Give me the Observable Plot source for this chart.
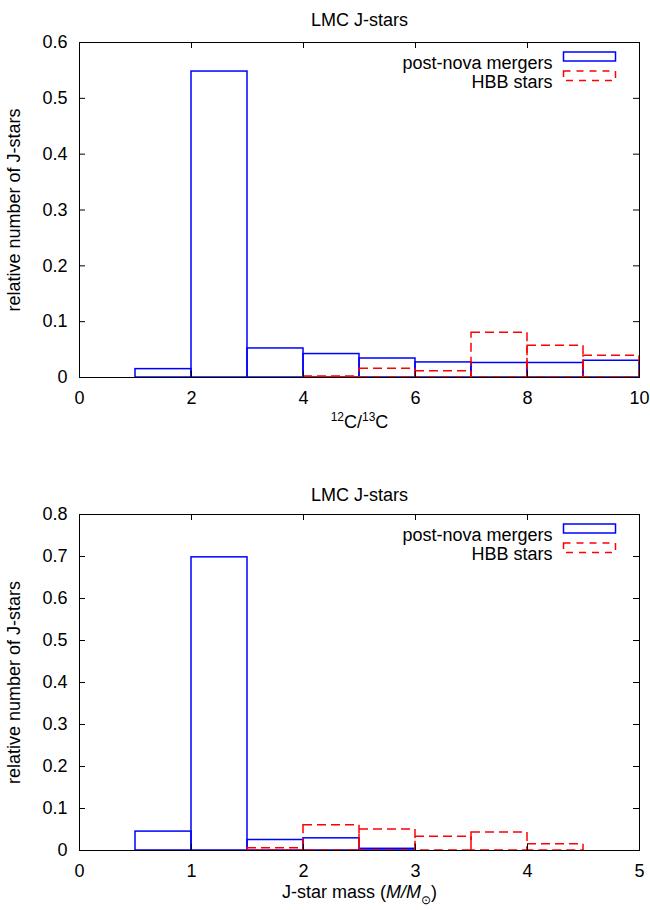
<!DOCTYPE html>
<html>
<head>
<meta charset="utf-8">
<script src="https://cdn.jsdelivr.net/npm/d3@7"></script>
<script src="https://cdn.jsdelivr.net/npm/@observablehq/plot@0.6"></script>
<style>
  body { margin: 0; background: #fff; }
  #chart svg { display: block; }
</style>
</head>
<body>
<div id="chart"></div>
<script>
// ---------- data ----------
const chartTitle = "LMC J-stars";
const yLabel = "relative number of J-stars";
const seriesNames = ["post-nova mergers", "HBB stars"];

// Panel 1: 12C/13C ratio
const ratioXTicks = [0, 2, 4, 6, 8, 10];
const ratioYTicks = [0, 0.1, 0.2, 0.3, 0.4, 0.5, 0.6];
const ratioBinWidth = 1;
const ratioMergerBins = [1, 2, 3, 4, 5, 6, 7, 8, 9];
const ratioMergerValues = [0.015, 0.548, 0.052, 0.042, 0.034, 0.027, 0.026, 0.026, 0.030];
const ratioHBBBins = [4, 5, 6, 7, 8, 9];
const ratioHBBValues = [0.002, 0.0155, 0.011, 0.080, 0.057, 0.039];
const ratioLabelParts = [["12", "sup"], ["C", ""], ["/", ""], ["13", "sup"], ["C", ""]];

// Panel 2: J-star mass
const massXTicks = [0, 1, 2, 3, 4, 5];
const massYTicks = [0, 0.1, 0.2, 0.3, 0.4, 0.5, 0.6, 0.7, 0.8];
const massBinWidth = 0.5;
const massMergerBins = [0.5, 1, 1.5, 2, 2.5];
const massMergerValues = [0.045, 0.698, 0.025, 0.029, 0.004];
const massHBBBins = [1.5, 2, 2.5, 3, 3.5, 4];
const massHBBValues = [0.0055, 0.060, 0.050, 0.033, 0.043, 0.015];
const massLabelParts = [["J-star mass (", ""], ["M/M", "it"], ["\u2299", "sub"], [")", ""]];

// ---------- helpers ----------
const FONT = "'Liberation Sans', Arial, Helvetica, sans-serif";
const W = 650, ML = 79, MR = 11;
const FW = W - ML - MR;
const fmt = d => String(+(+d).toFixed(3));

function bins(starts, values, width) {
  return starts.map((s, i) => ({x1: s, x2: s + width, y: values[i]}));
}

function richText(svg, parts) {
  const content = parts.map(p => p[0]).join("");
  d3.select(svg).selectAll("text")
    .filter(function () { return this.textContent === content; })
    .each(function () {
      const t = d3.select(this);
      t.text(null);
      let shift = 0;
      for (const [s, kind] of parts) {
        const ts = t.append("tspan").text(s);
        const target = kind === "sup" ? -7 : kind === "sub" ? 6 : 0;
        if (target !== shift) { ts.attr("dy", target - shift); shift = target; }
        if (kind === "sup" || kind === "sub") ts.attr("font-size", "12px");
        if (kind === "it") ts.attr("font-style", "italic");
      }
    });
}

function panel({height, marginTop, marginBottom, xDomain, yDomain, xTicks, yTicks,
                merger, hbb, labelParts, titleDy, labelDy}) {
  const FH = height - marginTop - marginBottom;
  const xLabelText = labelParts.map(p => p[0]).join("");
  const svg = Plot.plot({
    width: W,
    height,
    marginLeft: ML,
    marginRight: MR,
    marginTop,
    marginBottom,
    style: {fontSize: "18px", fontFamily: FONT, background: "#fff", color: "#000"},
    x: {domain: xDomain, ticks: xTicks, tickFormat: fmt, tickSize: 0, tickPadding: 14, label: null},
    y: {domain: yDomain, ticks: yTicks, tickFormat: fmt, tickSize: 0, tickPadding: 12, label: null},
    marks: [
      Plot.rect(merger, {x1: "x1", x2: "x2", y1: 0, y2: "y", fill: "none", stroke: "#0000ff", strokeWidth: 1.5}),
      Plot.rect(hbb, {x1: "x1", x2: "x2", y1: 0, y2: "y", fill: "none", stroke: "#ff0000", strokeWidth: 1.5, strokeDasharray: "9,5"}),
      // inward ticks on all four sides
      Plot.tickX(xTicks, {x: d => d, insetTop: FH - 6, stroke: "#000"}),
      Plot.tickX(xTicks, {x: d => d, insetBottom: FH - 6, stroke: "#000"}),
      Plot.tickY(yTicks, {y: d => d, insetRight: FW - 6, stroke: "#000"}),
      Plot.tickY(yTicks, {y: d => d, insetLeft: FW - 6, stroke: "#000"}),
      Plot.frame({stroke: "#000", strokeWidth: 1}),
      // legend
      Plot.text([seriesNames[0]], {frameAnchor: "top-right", textAnchor: "end", dx: -87, dy: 14}),
      Plot.text([seriesNames[1]], {frameAnchor: "top-right", textAnchor: "end", dx: -87, dy: 33}),
      Plot.frame({stroke: "#0000ff", strokeWidth: 1.5, insetLeft: FW - 76, insetRight: 24, insetTop: 9.5, insetBottom: FH - 18.5}),
      Plot.frame({stroke: "#ff0000", strokeWidth: 1.5, strokeDasharray: "7,6", insetLeft: FW - 76, insetRight: 24, insetTop: 28.5, insetBottom: FH - 38}),
      // titles and axis labels
      Plot.text([chartTitle], {frameAnchor: "top", dy: titleDy}),
      Plot.text([xLabelText], {frameAnchor: "bottom", dy: labelDy}),
      Plot.text([yLabel], {frameAnchor: "left", textAnchor: "middle", rotate: -90, dx: -65})
    ]
  });
  richText(svg, labelParts);
  return svg;
}

const root = document.getElementById("chart");
root.appendChild(panel({
  height: 473, marginTop: 42, marginBottom: 96,
  xDomain: [0, 10], yDomain: [0, 0.6], xTicks: ratioXTicks, yTicks: ratioYTicks,
  merger: bins(ratioMergerBins, ratioMergerValues, ratioBinWidth),
  hbb: bins(ratioHBBBins, ratioHBBValues, ratioBinWidth),
  labelParts: ratioLabelParts, titleDy: -29, labelDy: 50
}));
root.appendChild(panel({
  height: 437, marginTop: 41, marginBottom: 60,
  xDomain: [0, 5], yDomain: [0, 0.8], xTicks: massXTicks, yTicks: massYTicks,
  merger: bins(massMergerBins, massMergerValues, massBinWidth),
  hbb: bins(massHBBBins, massHBBValues, massBinWidth),
  labelParts: massLabelParts, titleDy: -26, labelDy: 47
}));
</script>
</body>
</html>
